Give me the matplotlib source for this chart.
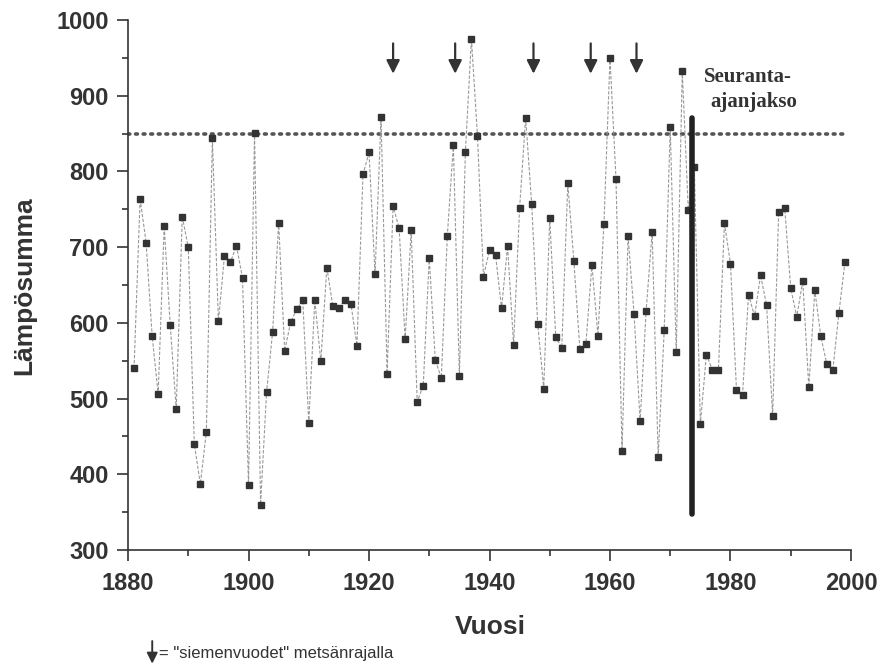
import numpy as np
import matplotlib.pyplot as plt
from matplotlib.ticker import MultipleLocator

# lämpösumma vuosittain 1881-1999
vuodet = list(range(1881, 2000))
summa = [540, 764, 706, 583, 506, 728, 597, 486, 740, 700,
         440, 387, 456, 844, 602, 688, 680, 702, 659, 386,
         851, 360, 509, 588, 732, 563, 601, 618, 630, 468,
         630, 549, 673, 622, 620, 630, 625, 570, 796, 825,
         664, 872, 533, 754, 725, 578, 722, 496, 517, 686,
         551, 527, 715, 835, 530, 826, 975, 847, 661, 696,
         690, 619, 701, 571, 752, 871, 757, 599, 513, 738,
         581, 567, 784, 682, 565, 572, 677, 583, 731, 950,
         790, 431, 715, 611, 470, 616, 720, 423, 590, 858,
         561, 932, 749, 806, 466, 558, 538, 538, 732, 678,
         511, 505, 637, 609, 663, 623, 477, 747, 752, 646,
         608, 655, 515, 643, 582, 545, 538, 613, 680]

raja = 850
raja_vuodet = [1880, 1999.5]
siemenvuodet = [1924, 1934.3, 1947.3, 1956.8, 1964.4]
seuranta_vuosi = 1973.6
seuranta_ala, seuranta_yla = 347, 871

tumma = '#333333'

fig = plt.figure(figsize=(8.8, 6.65), dpi=100)
ax = fig.add_axes([0.1455, 0.173, 0.8215, 0.797])

ax.plot(vuodet, summa, color='#999999', lw=0.8, ls=(0, (3, 1.5)), zorder=2)
ax.plot(vuodet, summa, ls='none', marker='s', ms=5, color=tumma, zorder=3)

ax.plot(raja_vuodet, [raja, raja], color='#555555', lw=2.6,
        ls=(0, (0.5, 1.6)), dash_capstyle='round', zorder=1)

ax.plot([seuranta_vuosi, seuranta_vuosi], [seuranta_ala, seuranta_yla],
        color='#222222', lw=4, solid_capstyle='round', zorder=4)

for v in siemenvuodet:
    ax.annotate('', xy=(v, 929), xytext=(v, 969),
                arrowprops=dict(arrowstyle='-|>', color=tumma, lw=1.6,
                                mutation_scale=20, shrinkA=0, shrinkB=0))

ax.text(1975.6, 925, 'Seuranta-', family='Liberation Serif', weight='bold',
        fontsize=15, color=tumma, va='center', ha='left')
ax.text(1976.6, 891, 'ajanjakso', family='Liberation Serif', weight='bold',
        fontsize=15, color=tumma, va='center', ha='left')

ax.set_xlim(1880, 2000)
ax.set_ylim(300, 1000)
ax.xaxis.set_major_locator(MultipleLocator(20))
ax.xaxis.set_minor_locator(MultipleLocator(10))
ax.yaxis.set_major_locator(MultipleLocator(100))
ax.yaxis.set_minor_locator(MultipleLocator(50))

for s in ['top', 'right']:
    ax.spines[s].set_visible(False)
for s in ['left', 'bottom']:
    ax.spines[s].set_linewidth(1.2)
    ax.spines[s].set_color(tumma)

ax.tick_params(which='major', length=8, width=1.2, color=tumma, direction='out')
ax.tick_params(which='minor', length=4.5, width=1.2, color=tumma, direction='out')
ax.tick_params(axis='x', pad=8)
ax.tick_params(axis='y', pad=6)
for lab in ax.get_xticklabels() + ax.get_yticklabels():
    lab.set_family('Liberation Sans')
    lab.set_fontweight('bold')
    lab.set_fontsize(17)
    lab.set_color(tumma)

fig.text(0.027, 0.57, 'Lämpösumma', rotation=90, ha='center', va='center',
         family='Liberation Sans', weight='bold', fontsize=19, color=tumma)
fig.text(0.557, 0.057, 'Vuosi', ha='center', va='center',
         family='Liberation Sans', weight='bold', fontsize=19, color=tumma)

fig.patches.append(plt.matplotlib.patches.FancyArrowPatch(
    (0.173, 0.036), (0.173, 0.002), transform=fig.transFigure,
    arrowstyle='-|>', mutation_scale=16, color=tumma, lw=1.4,
    shrinkA=0, shrinkB=0))
fig.text(0.181, 0.017, '= "siemenvuodet" metsänrajalla', ha='left', va='center',
         family='Liberation Sans', fontsize=12, color=tumma)

fig.savefig('out.png', dpi=100)
